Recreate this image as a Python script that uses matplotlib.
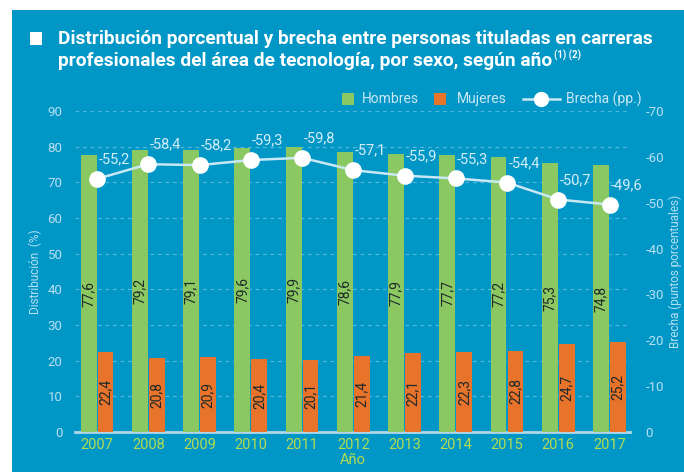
import matplotlib
matplotlib.use('Agg')
import numpy as np
from matplotlib import pyplot as plt
from matplotlib.patches import Rectangle
from matplotlib.lines import Line2D

# datos
anios = ['2007', '2008', '2009', '2010', '2011', '2012', '2013', '2014', '2015', '2016', '2017']
hombres = [77.6, 79.2, 79.1, 79.6, 79.9, 78.6, 77.9, 77.7, 77.2, 75.3, 74.8]
mujeres = [22.4, 20.8, 20.9, 20.4, 20.1, 21.4, 22.1, 22.3, 22.8, 24.7, 25.2]
brecha = [55.2, 58.4, 58.2, 59.3, 59.8, 57.1, 55.9, 55.3, 54.4, 50.7, 49.6]
series = ['Hombres', 'Mujeres', 'Brecha (pp.)']

azul = '#0096c6'
verde = '#8cc862'
naranja = '#e8732a'
texto = '#b9e0f2'
verde_txt = '#b4dc50'
linea = '#c9e8f5'

plt.rcParams['font.family'] = ['Roboto', 'DejaVu Sans']

W, H = 684, 472
fig = plt.figure(figsize=(W / 100, H / 100), dpi=100)
fig.patch.set_facecolor('white')
fig.patches.append(Rectangle((12 / W, 0), 1, 1 - 10 / H, transform=fig.transFigure,
                             facecolor=azul, edgecolor='none', zorder=-10))

ax = fig.add_axes([75 / W, 40 / H, 555 / W, 321 / H])
ax.set_facecolor('none')
ax2 = ax.twinx()

x = np.arange(len(anios))
w = 0.31
ax.bar(x - 0.165, hombres, w, color=verde, zorder=3)
ax.bar(x + 0.165, mujeres, w, color=naranja, zorder=3)

for xi, v in zip(x, hombres):
    ax.text(xi - 0.165, v / 2, f'{v:.1f}'.replace('.', ','), rotation=90,
            ha='center', va='center', fontsize=10, color='#1e2a2a', zorder=4)
for xi, v in zip(x, mujeres):
    ax.text(xi + 0.165, v / 2, f'{v:.1f}'.replace('.', ','), rotation=90,
            ha='center', va='center', fontsize=10, color='#1e2a2a', zorder=4)

ax.set_xlim(-0.43, 10.4)
ax.set_ylim(0, 90)
ax.set_yticks(range(0, 91, 10))
ax.set_xticks(x)
ax.set_xticklabels(anios, color=verde_txt, fontsize=10.5)
ax.tick_params(axis='y', colors=texto, labelsize=9.5, length=0, pad=9)
ax.tick_params(axis='x', length=0, pad=4)
ax.yaxis.grid(True, color='#4fb6dc', linestyle=(0, (3, 3)), linewidth=0.9)
ax.set_axisbelow(True)
for s in ['top', 'right', 'left']:
    ax.spines[s].set_visible(False)
ax.spines['bottom'].set_color('#b3d6e6')
ax.spines['bottom'].set_linewidth(2)
ax.set_ylabel('Distribución  (%)', color=texto, fontsize=8.5, labelpad=4)
ax.set_xlabel('Año', color=verde_txt, fontsize=10.5, labelpad=1)

ax2.plot(x, brecha, color=linea, linewidth=1.8, marker='o', markersize=11,
         markerfacecolor='white', markeredgecolor='white', zorder=5)
for xi, v in zip(x, brecha):
    ax2.annotate(f'-{v:.1f}'.replace('.', ','), (xi, v), xytext=(1, 14),
                 textcoords='offset points', ha='left', va='center',
                 fontsize=10.5, color='#d4edf8', zorder=6)
ax2.set_ylim(0, 70)
ax2.set_yticks(range(0, 71, 10))
ax2.set_yticklabels(['0'] + [f'-{t}' for t in range(10, 71, 10)])
ax2.tick_params(axis='y', colors=texto, labelsize=9.5, length=0, pad=11)
for s in ['top', 'right', 'left', 'bottom']:
    ax2.spines[s].set_visible(False)
ax2.set_ylabel('Brecha (puntos porcentuales)', color=texto, fontsize=8.5, labelpad=3)

# leyenda a mano
ly = 1 - 99 / H
fig.patches.append(Rectangle((342 / W, ly - 6 / H), 12 / W, 12 / H, transform=fig.transFigure,
                             facecolor=verde, edgecolor='none'))
fig.patches.append(Rectangle((434 / W, ly - 6 / H), 12 / W, 12 / H, transform=fig.transFigure,
                             facecolor=naranja, edgecolor='none'))
fig.lines.append(Line2D([523 / W, 560 / W], [ly, ly], transform=fig.transFigure,
                        color=linea, linewidth=1.8, marker=None))
fig.lines.append(Line2D([541 / W], [ly], transform=fig.transFigure, marker='o', markersize=10,
                        color='white', markeredgecolor='white'))
for xt, s in zip([362, 457, 566], series):
    fig.text(xt / W, ly, s, color='#cce8f4', fontsize=10, va='center')

# titulo
fig.patches.append(Rectangle((30 / W, 1 - 45 / H), 12 / W, 13 / H,
                             transform=fig.transFigure, facecolor='white', edgecolor='none'))
t1 = fig.text(58 / W, 1 - 39 / H, 'Distribución porcentual y brecha entre personas tituladas en carreras',
              color='white', fontsize=13.5, fontweight='bold', va='center')
t2 = fig.text(58 / W, 1 - 61 / H, 'profesionales del área de tecnología, por sexo, según año',
              color='white', fontsize=13.5, fontweight='bold', va='center')
fig.canvas.draw()
r = fig.canvas.get_renderer()
escala = 594 / t1.get_window_extent(r).width
t1.set_fontsize(13.5 * escala)
t2.set_fontsize(13.5 * escala)
fig.canvas.draw()
bb = t2.get_window_extent(r)
fig.text((bb.x1 + 2) / W, 1 - 55 / H, '(1) (2)', color='white', fontsize=7,
         fontweight='bold', va='center')

fig.savefig('out.png', dpi=100, facecolor=fig.get_facecolor())
